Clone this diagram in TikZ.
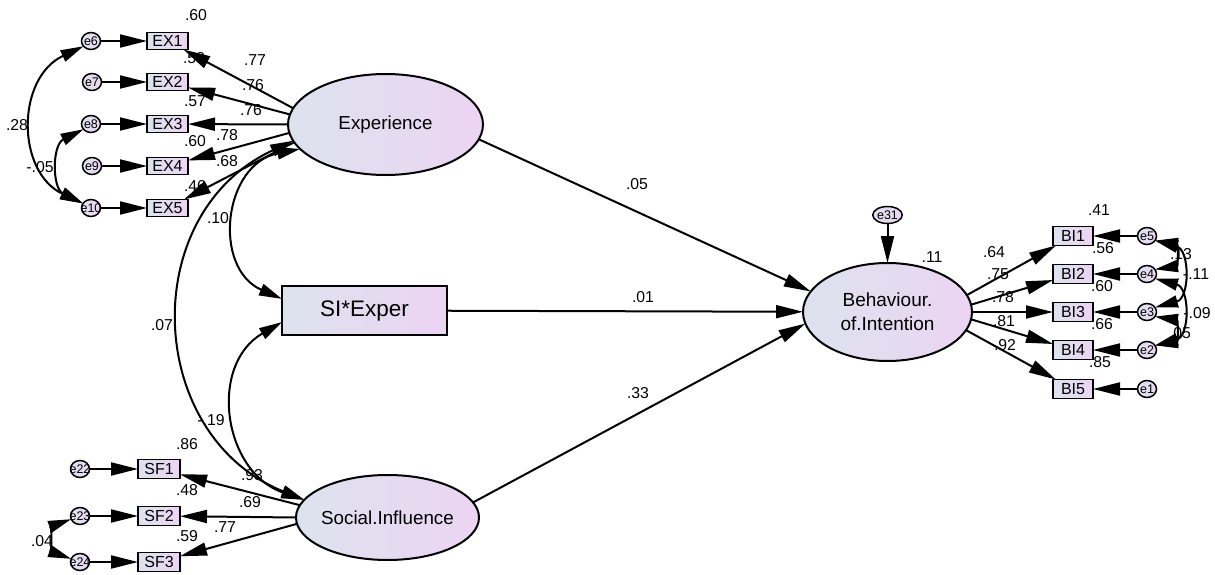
\documentclass[tikz,border=0pt]{standalone}
\usepackage{fontspec}
\setmainfont{Liberation Sans}
\usetikzlibrary{arrows.meta,shapes.geometric}
\definecolor{shadeL}{RGB}{221,227,238}
\definecolor{shadeR}{RGB}{236,212,243}
\newcommand\etxt[1]{\makebox[0pt][c]{#1}}
\begin{document}
\begin{tikzpicture}[x=1pt,y=-1pt,
  every node/.style={inner sep=0pt,outer sep=0pt},
  latent/.style={ellipse,draw,line width=2pt,left color=shadeL,right color=shadeR,
    font=\fontsize{18.8}{24}\selectfont},
  obsbox/.style={rectangle,draw,line width=1.8pt,left color=shadeL,right color=shadeR,
    minimum width=41pt,minimum height=17pt,font=\fontsize{16}{16}\selectfont},
  errc/.style={ellipse,draw,line width=1.5pt,left color=shadeL,right color=shadeR,
    minimum width=19pt,minimum height=17pt,font=\fontsize{12.5}{12}\selectfont},
  coef/.style={font=\fontsize{15.8}{16}\selectfont},
  arr/.style={->,>={Triangle[length=27pt,width=13pt]},line width=2pt},
  corr/.style={<->,>={Triangle[length=23pt,width=12pt]},line width=2pt},
]
\useasboundingbox (0,0) rectangle (1215,575);

% ---- coefficient labels (set first, so connectors may overlap them) ----
\node[coef] (c1)  at (196,15)  {.60};
\node[coef] (c2)  at (194,58)  {.58};
\node[coef] (c3)  at (195,101) {.57};
\node[coef] (c4)  at (195,141) {.60};
\node[coef] (c5)  at (195,186) {.46};
\node[coef] (c6)  at (255,60)  {.77};
\node[coef] (c7)  at (253,85)  {.76};
\node[coef] (c8)  at (251,110) {.76};
\node[coef] (c9)  at (227,135) {.78};
\node[coef] (c10) at (227,161) {.68};
\node[coef] (c11) at (17,125)  {.28};
\node[coef] (c12) at (40,167)  {-.05};
\node[coef] (c13) at (218,218) {.10};
\node[coef] (c14) at (162,325) {.07};
\node[coef] (c15) at (211,420) {-.19};
\node[coef] (c16) at (252,475) {.93};
\node[coef] (c17) at (187,444) {.86};
\node[coef] (c18) at (187,490) {.48};
\node[coef] (c19) at (250,502) {.69};
\node[coef] (c20) at (187,536) {.59};
\node[coef] (c21) at (225,527) {.77};
\node[coef] (c22) at (42,541)  {.04};
\node[coef] (c23) at (637,184) {.05};
\node[coef] (c24) at (643,297) {.01};
\node[coef] (c25) at (638,393) {.33};
\node[coef] (c26) at (932,257) {.11};
\node[coef] (c27) at (994,252) {.64};
\node[coef] (c28) at (998,274) {.75};
\node[coef] (c29) at (1003,297) {.78};
\node[coef] (c30) at (1004,321) {.81};
\node[coef] (c31) at (1005,345) {.92};
\node[coef] (c32) at (1099,210) {.41};
\node[coef] (c33) at (1103,248) {.56};
\node[coef] (c34) at (1102,286) {.60};
\node[coef] (c35) at (1102,324) {.66};
\node[coef] (c36) at (1100,362) {.85};
\node[coef] (c37) at (1181,254) {.13};
\node[coef] (c38) at (1196,274) {-.11};
\node[coef] (c39) at (1197,313) {-.09};
\node[coef] (c40) at (1180,333) {.05};

% ---- latent variables ----
\node[latent,minimum width=195pt,minimum height=101pt] (exp) at (385.5,124.5) {Experience};
\node[latent,minimum width=183pt,minimum height=85pt] (soc) at (387.5,517.5) {\makebox[0pt][c]{Social.Influence}};
\node[latent,minimum width=169pt,minimum height=98pt,align=center,font=\fontsize{19}{24}\selectfont] (boi) at (887.5,312) {Behaviour.\\of.Intention};

% ---- interaction term ----
\node[obsbox,minimum width=165pt,minimum height=49pt,line width=2pt,font=\fontsize{22.5}{24}\selectfont] (six) at (364.5,310.5) {SI*Exper};

% ---- Experience indicators ----
\node[obsbox] (EX1) at (167.5,41)  {EX1};
\node[obsbox] (EX2) at (167.5,82)  {EX2};
\node[obsbox] (EX3) at (167.5,124) {EX3};
\node[obsbox] (EX4) at (167.5,166) {EX4};
\node[obsbox] (EX5) at (167.5,208) {EX5};
\node[errc] (e6)  at (91,41)  {\etxt{e6}};
\node[errc] (e7)  at (92,82)  {\etxt{e7}};
\node[errc] (e8)  at (91,124) {\etxt{e8}};
\node[errc] (e9)  at (92,166) {\etxt{e9}};
\node[errc] (e10) at (91,208) {\etxt{e10}};

% ---- Social influence indicators ----
\node[obsbox,minimum width=42pt,minimum height=19pt] (SF1) at (159,469) {SF1};
\node[obsbox,minimum width=42pt,minimum height=19pt] (SF2) at (159,516) {SF2};
\node[obsbox,minimum width=42pt,minimum height=19pt] (SF3) at (159,562) {SF3};
\node[errc] (e22) at (80,469) {\etxt{e22}};
\node[errc] (e23) at (80,516) {\etxt{e23}};
\node[errc] (e24) at (80,562) {\etxt{e24}};

% ---- Behavioural intention indicators ----
\node[obsbox,minimum width=40pt,minimum height=19pt] (BI1) at (1073,236) {BI1};
\node[obsbox,minimum width=40pt,minimum height=19pt] (BI2) at (1073,274) {BI2};
\node[obsbox,minimum width=40pt,minimum height=19pt] (BI3) at (1073,312) {BI3};
\node[obsbox,minimum width=40pt,minimum height=19pt] (BI4) at (1073,350) {BI4};
\node[obsbox,minimum width=40pt,minimum height=19pt] (BI5) at (1073,389) {BI5};
\node[errc] (e5) at (1147,236) {\etxt{e5}};
\node[errc] (e4) at (1147,274) {\etxt{e4}};
\node[errc] (e3) at (1147,312) {\etxt{e3}};
\node[errc] (e2) at (1147,350) {\etxt{e2}};
\node[errc] (e1) at (1147,389) {\etxt{e1}};
\node[errc,minimum width=27pt] (e31) at (887.5,215) {e31};

% ---- measurement paths ----
\draw[arr] (e6) -- (EX1);
\draw[arr] (e7) -- (EX2);
\draw[arr] (e8) -- (EX3);
\draw[arr] (e9) -- (EX4);
\draw[arr] (e10) -- (EX5);
\draw[arr] (exp.170) -- (EX1);
\draw[arr] (exp.174.5) -- (EX2);
\draw[arr] (exp.180) -- (EX3);
\draw[arr] (exp.185) -- (EX4);
\draw[arr] (exp.191) -- (EX5);

\draw[arr] (e22) -- (SF1);
\draw[arr] (e23) -- (SF2);
\draw[arr] (e24) -- (SF3);
\draw[arr] (soc.172) -- (SF1);
\draw[arr] (soc.180) -- (SF2);
\draw[arr] (soc.184) -- (SF3);

\draw[arr] (boi.12) -- (BI1);
\draw[arr] (boi.5) -- (BI2);
\draw[arr] (boi.0) -- (BI3);
\draw[arr] (boi.-5.5) -- (BI4);
\draw[arr] (boi.-13) -- (BI5);
\draw[arr] (e5) -- (BI1);
\draw[arr] (e4) -- (BI2);
\draw[arr] (e3) -- (BI3);
\draw[arr] (e2) -- (BI4);
\draw[arr] (e1) -- (BI5);

% ---- structural paths ----
\draw[arr] (exp.351) -- (boi.165);
\draw[arr] (six) -- (boi);
\draw[arr] (soc.10) -- (boi.188);
\draw[arr] (e31) -- (boi);

% ---- covariances ----
\draw[corr] (exp.190) .. controls (136,214) and (145,436) .. (soc.168);
\draw[corr] (exp.196) .. controls (223,164) and (212,268) .. (six.172);
\draw[corr] (six.188) .. controls (208,365) and (223,472) .. (soc.168);
\draw[corr] (e6.215) .. controls (16,78) and (16,172) .. (e10.150);
\draw[corr] (e8.215) .. controls (52,145) and (52,188) .. (e10.150);
\draw[corr] (e23.200) .. controls (52,526) and (52,552) .. (e24.160);
\draw[corr] (e5.-30) .. controls (1178,244) and (1178,266) .. (e4.30);
\draw[corr] (e5.-30) .. controls (1190,250) and (1190,298) .. (e3.30);
\draw[corr] (e4.-30) .. controls (1190,288) and (1190,336) .. (e2.30);
\draw[corr] (e3.-30) .. controls (1178,320) and (1178,342) .. (e2.30);
\end{tikzpicture}
\end{document}
